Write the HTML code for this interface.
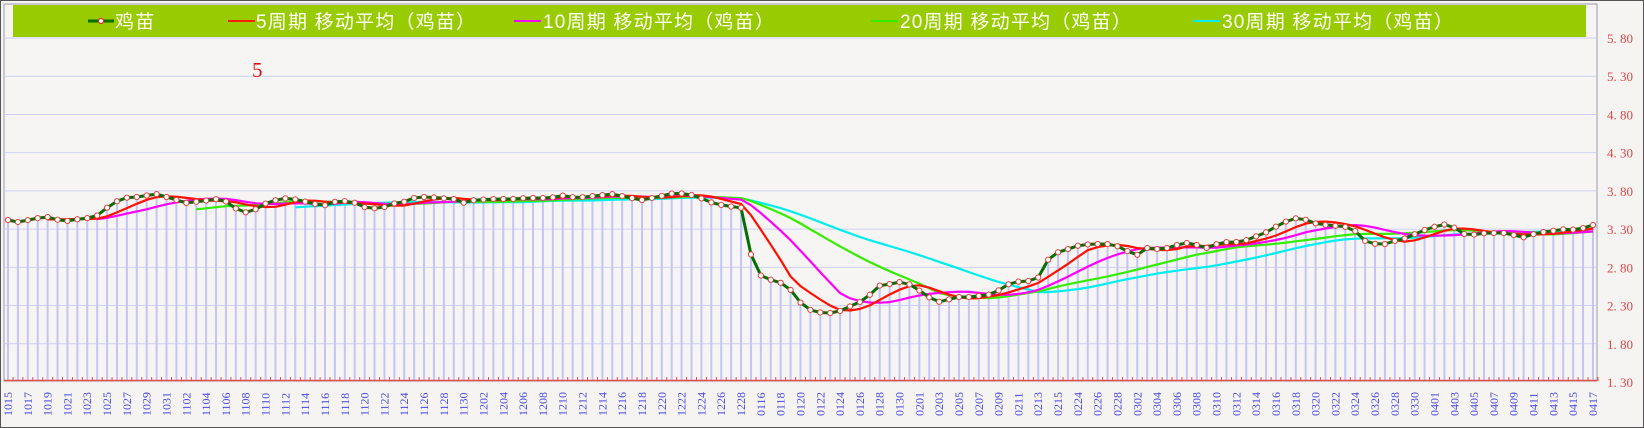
<!DOCTYPE html>
<html><head><meta charset="utf-8"><style>
html,body{margin:0;padding:0;width:1644px;height:428px;overflow:hidden;background:#f4f3f1}
svg{display:block}
</style></head><body>
<svg id="s" width="1644" height="428" xmlns="http://www.w3.org/2000/svg">
<rect x="0" y="0" width="1644" height="428" fill="#f5f4f2"/>
<rect x="0.5" y="0.5" width="1643" height="427" fill="none" stroke="#555" stroke-width="1"/>
<rect x="4" y="4" width="1593" height="377" fill="#f6f5f3" stroke="#9a9aa8" stroke-width="1"/>
<g id="grid"></g>
<g id="bars"></g>
<g id="lines"></g>
<rect x="13" y="5" width="1573" height="32" fill="#99cc00"/>
<g font-family="Liberation Sans, Noto Sans CJK SC, sans-serif" font-size="19" fill="#ffffff" letter-spacing="1.2">
<line x1="88" y1="21" x2="114" y2="21" stroke="#007000" stroke-width="3"/>
<circle cx="101" cy="21" r="2.5" fill="#fff" stroke="#e03030" stroke-width="1.2"/>
<text x="115" y="28">鸡苗</text>
<line x1="228" y1="21" x2="255" y2="21" stroke="#ff2000" stroke-width="2"/>
<text x="256" y="28">5周期 移动平均（鸡苗）</text>
<line x1="514" y1="21" x2="541" y2="21" stroke="#ff00ff" stroke-width="2"/>
<text x="543" y="28">10周期 移动平均（鸡苗）</text>
<line x1="871" y1="21" x2="898" y2="21" stroke="#33ee00" stroke-width="2"/>
<text x="900" y="28">20周期 移动平均（鸡苗）</text>
<line x1="1193" y1="21" x2="1220" y2="21" stroke="#00eeee" stroke-width="2"/>
<text x="1222" y="28">30周期 移动平均（鸡苗）</text>
</g>
<text x="252" y="77" font-family="Liberation Serif, serif" font-size="21" fill="#e01010">5</text>
<g id="axis"></g>
</svg>
<script>
var NS="http://www.w3.org/2000/svg";
function el(p,t,a,txt){var e=document.createElementNS(NS,t);for(var k in a)e.setAttribute(k,a[k]);if(txt!==undefined)e.textContent=txt;document.getElementById(p).appendChild(e);return e;}
function Y(v){return 382-(v-1.30)/0.5*38.22;}
var N=161;function X(i){return 8+i*9.906;}
var vals=["1.30","1.80","2.30","2.80","3.30","3.80","4.30","4.80","5.30","5.80"];
vals.forEach(function(s){var v=parseFloat(s),y=Y(v);
 if(v>1.31)el("grid","line",{x1:4,y1:y,x2:1597,y2:y,stroke:"#d0d0f4","stroke-width":1});
 el("axis","text",{x:1607,y:y+5,"font-family":"Liberation Serif, serif","font-size":"13",fill:"#e04848"},s.replace(".",". "));});
var kf=[[8,220],[18,222],[28,220],[38,218],[48,217],[58,220],[68,221],[78,219],[88,218],[98,215],[108,206],[118,200],[128,197],[138,197],[148,195],[155,194],[165,197],[175,200],[185,203],[200,201],[210,200],[220,198],[230,207],[240,211],[248,214],[257,206],[267,202],[277,199],[286,198],[300,201],[320,206],[330,202],[340,201],[350,202],[360,207],[377,209],[387,204],[400,202],[405,199],[415,197],[425,197],[435,198],[450,199],[460,203],[470,200],[490,199],[510,199],[520,198],[540,198],[552,197],[560,195],[570,198],[588,196],[598,195],[607,194],[620,197],[636,200],[655,196],[662,194],[670,193],[680,194],[690,196],[700,201],[710,204],[720,206],[728,207],[736,208],[745,260],[755,277],[765,280],[773,282],[783,288],[792,300],[800,308],[810,312],[820,313],[830,313],[837,310],[846,306],[855,302],[865,295],[876,285],[886,284],[896,282],[905,284],[915,290],[925,297],[935,302],[943,300],[956,297],[966,297],[975,296],[985,295],[995,292],[1000,287],[1010,283],[1020,281],[1030,281],[1040,276],[1050,253],[1060,252],[1070,248],[1080,245],[1093,244],[1107,244],[1117,246],[1127,251],[1137,255],[1147,248],[1157,249],[1167,248],[1177,245],[1187,243],[1197,245],[1207,248],[1217,244],[1227,242],[1237,242],[1247,240],[1257,236],[1267,232],[1277,226],[1287,221],[1297,218],[1307,220],[1317,224],[1327,225],[1337,226],[1347,227],[1357,232],[1367,243],[1377,244],[1387,244],[1397,240],[1407,238],[1417,233],[1427,229],[1437,226],[1447,224],[1457,229],[1467,236],[1477,234],[1487,233],[1497,233],[1507,233],[1517,236],[1527,238],[1537,232],[1547,232],[1557,230],[1567,229],[1577,230],[1593,225]];
kf=kf.map(function(p){var x=p[0],d=0;if(x<=740)d=7*(x-8)/732;else if(x<1100)d=7*(1100-x)/360;return [x+d,p[1]];});
function interp(x){for(var j=0;j<kf.length-1;j++){if(x<=kf[j+1][0]){var a=kf[j],b=kf[j+1],t=(x-a[0])/(b[0]-a[0]);return a[1]+t*(b[1]-a[1]);}}return kf[kf.length-1][1];}
var py=[];for(var i=0;i<N;i++)py.push(interp(X(i)));
for(var i=0;i<N;i++)el("bars","line",{x1:X(i),y1:py[i],x2:X(i),y2:380,stroke:"#c4c4f6","stroke-width":2});
el("axis","line",{x1:4,y1:380.5,x2:1597,y2:380.5,stroke:"#e05050","stroke-width":1.5});
for(var i=0;i<N;i++)el("axis","line",{x1:X(i)+5,y1:377,x2:X(i)+5,y2:381,stroke:"#e05050","stroke-width":1});
var labs=[];
function add(pre,from,to,step){for(var d=from;d<=to;d+=step)labs.push(pre+(d<10?"0":"")+d);}
add("10",15,31,2);add("11",2,30,2);add("12",2,28,2);add("01",16,30,2);add("02",1,15,2);add("02",24,28,2);add("03",2,30,2);add("04",1,17,2);
labs.forEach(function(s,k){var x=X(2*k)+4;el("axis","text",{x:0,y:0,transform:"translate("+x+",416) rotate(-90)","font-family":"Liberation Serif, serif","font-size":"12",fill:"#4848e0"},s);});
function ma(n,col){var pts=[];for(var i=n-1;i<N;i++){var s=0;for(var j=i-n+1;j<=i;j++)s+=py[j];pts.push(X(i).toFixed(1)+","+(s/n).toFixed(1));}
 el("lines","polyline",{points:pts.join(" "),fill:"none",stroke:col,"stroke-width":2.2,"stroke-linejoin":"round"});}
ma(30,"#00eeee");ma(20,"#33ee00");ma(10,"#ff00ff");ma(5,"#ff1000");
var p=[];for(var i=0;i<N;i++)p.push(X(i).toFixed(1)+","+py[i].toFixed(1));
el("lines","polyline",{points:p.join(" "),fill:"none",stroke:"#007000","stroke-width":3,"stroke-linejoin":"round"});
for(var i=0;i<N;i++)el("lines","circle",{cx:X(i),cy:py[i],r:2.6,fill:"#fff",stroke:"#e04040","stroke-width":1});
</script>
</body></html>
